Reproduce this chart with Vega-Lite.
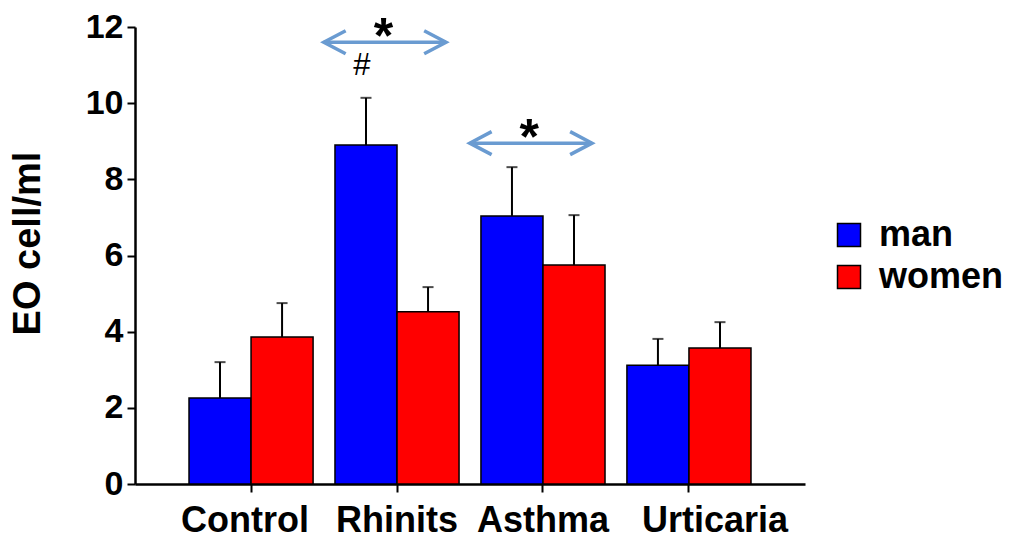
{
  "$schema": "https://vega.github.io/schema/vega-lite/v6.json",
  "width": 670,
  "height": 457,
  "autosize": "none",
  "padding": {"left": 135, "top": 27, "right": 206, "bottom": 55},
  "background": "white",
  "config": {"font": "Liberation Sans", "view": {"stroke": null}},
  "datasets": {
    "bars": [
      {"cat": "Control", "sex": "man", "value": 2.26, "upper": 3.2},
      {"cat": "Control", "sex": "women", "value": 3.86, "upper": 4.75},
      {"cat": "Rhinits", "sex": "man", "value": 8.9, "upper": 10.14},
      {"cat": "Rhinits", "sex": "women", "value": 4.52, "upper": 5.17},
      {"cat": "Asthma", "sex": "man", "value": 7.04, "upper": 8.32},
      {"cat": "Asthma", "sex": "women", "value": 5.75, "upper": 7.06},
      {"cat": "Urticaria", "sex": "man", "value": 3.12, "upper": 3.81},
      {"cat": "Urticaria", "sex": "women", "value": 3.57, "upper": 4.25}
    ],
    "arrows": [
      {"cat": "Rhinits", "y": 11.6, "star": 12.0},
      {"cat": "Asthma", "y": 8.95, "star": 9.35}
    ],
    "hash": [
      {"cat": "Rhinits", "sex": "man", "y": 10.97, "label": "#"}
    ]
  },
  "layer": [
    {
      "data": {"name": "bars"},
      "mark": {"type": "bar", "stroke": "black", "strokeWidth": 1.5},
      "encoding": {
        "x": {
          "field": "cat", "type": "nominal",
          "sort": ["Control", "Rhinits", "Asthma", "Urticaria"],
          "scale": {"paddingInner": 0.15, "paddingOuter": 0.37},
          "axis": {
            "title": null, "labelAngle": 0, "labelFontSize": 36, "labelFontWeight": "bold",
            "labelColor": "black", "labelPadding": 11, "tickSize": 8, "tickWidth": 2,
            "labelOffset": {"condition": [{"test": "datum.value == 'Urticaria'", "value": 26}, {"test": "datum.value == 'Control'", "value": -6}], "value": 0},
            "tickColor": "black", "domainColor": "black", "domainWidth": 2.5
          }
        },
        "xOffset": {"field": "sex", "type": "nominal", "sort": ["man", "women"], "scale": {"paddingInner": 0, "paddingOuter": 0}},
        "y": {
          "field": "value", "type": "quantitative",
          "scale": {"domain": [0, 12], "nice": false},
          "axis": {
            "title": "EO cell/ml", "titleFontSize": 38, "titleFontWeight": "bold", "titleColor": "black",
            "titlePadding": 38, "titleY": 216,
            "values": [0, 1, 2, 3, 4, 5, 6, 7, 8, 9, 10, 11, 12],
            "labelExpr": "datum.value % 2 ? '' : datum.label",
            "labelFontSize": 34, "labelFontWeight": "bold", "labelColor": "black", "labelPadding": 4,
            "tickSize": {"condition": {"test": "datum.value % 2 == 1", "value": 5}, "value": 8},
            "tickWidth": 2, "tickColor": "black", "domainColor": "black", "domainWidth": 2.5,
            "grid": false
          }
        },
        "color": {
          "field": "sex", "type": "nominal",
          "scale": {"domain": ["man", "women"], "range": ["#0000ff", "#ff0000"]},
          "legend": {
            "title": null, "orient": "none", "legendX": 696, "legendY": 190,
            "symbolType": "square", "symbolSize": 529, "symbolStrokeColor": "black", "symbolStrokeWidth": 1.5,
            "labelFontSize": 36, "labelFontWeight": "bold", "labelColor": "black", "labelOffset": 12,
            "rowPadding": 6
          }
        }
      }
    },
    {
      "data": {"name": "bars"},
      "mark": {"type": "rule", "color": "black", "strokeWidth": 2},
      "encoding": {
        "x": {"field": "cat", "type": "nominal", "sort": ["Control", "Rhinits", "Asthma", "Urticaria"]},
        "xOffset": {"field": "sex", "type": "nominal", "sort": ["man", "women"]},
        "y": {"field": "value", "type": "quantitative"},
        "y2": {"field": "upper"}
      }
    },
    {
      "data": {"name": "bars"},
      "mark": {"type": "tick", "color": "black", "thickness": 2, "size": 11, "orient": "horizontal"},
      "encoding": {
        "x": {"field": "cat", "type": "nominal", "sort": ["Control", "Rhinits", "Asthma", "Urticaria"]},
        "xOffset": {"field": "sex", "type": "nominal", "sort": ["man", "women"]},
        "y": {"field": "upper", "type": "quantitative"}
      }
    },
    {
      "data": {"name": "arrows"},
      "mark": {"type": "rule", "color": "#6a9bd1", "strokeWidth": 3.5},
      "encoding": {
        "x": {"field": "cat", "type": "nominal", "sort": ["Control", "Rhinits", "Asthma", "Urticaria"], "bandPosition": -0.09},
        "x2": {"field": "cat", "bandPosition": 0.895},
        "y": {"field": "y", "type": "quantitative"}
      }
    },
    {
      "data": {"name": "arrows"},
      "mark": {"type": "point", "shape": "M1.9,-1L0,0L1.9,1", "size": 529, "filled": false, "color": "#6a9bd1", "strokeWidth": 3.5, "opacity": 1},
      "encoding": {
        "x": {"field": "cat", "type": "nominal", "sort": ["Control", "Rhinits", "Asthma", "Urticaria"], "bandPosition": -0.09},
        "y": {"field": "y", "type": "quantitative"}
      }
    },
    {
      "data": {"name": "arrows"},
      "mark": {"type": "point", "shape": "M-1.9,-1L0,0L-1.9,1", "size": 529, "filled": false, "color": "#6a9bd1", "strokeWidth": 3.5, "opacity": 1},
      "encoding": {
        "x": {"field": "cat", "type": "nominal", "sort": ["Control", "Rhinits", "Asthma", "Urticaria"], "bandPosition": 0.895},
        "y": {"field": "y", "type": "quantitative"}
      }
    },
    {
      "data": {"name": "arrows"},
      "mark": {"type": "text", "text": "*", "fontSize": 50, "fontWeight": "bold", "color": "black", "baseline": "alphabetic", "dy": 26},
      "encoding": {
        "x": {"field": "cat", "type": "nominal", "sort": ["Control", "Rhinits", "Asthma", "Urticaria"], "bandPosition": 0.39},
        "y": {"field": "star", "type": "quantitative"}
      }
    },
    {
      "data": {"name": "hash"},
      "mark": {"type": "text", "fontSize": 31, "color": "black", "baseline": "middle", "dx": -4},
      "encoding": {
        "x": {"field": "cat", "type": "nominal", "sort": ["Control", "Rhinits", "Asthma", "Urticaria"]},
        "xOffset": {"field": "sex", "type": "nominal", "sort": ["man", "women"]},
        "y": {"field": "y", "type": "quantitative"},
        "text": {"field": "label"}
      }
    }
  ]
}
